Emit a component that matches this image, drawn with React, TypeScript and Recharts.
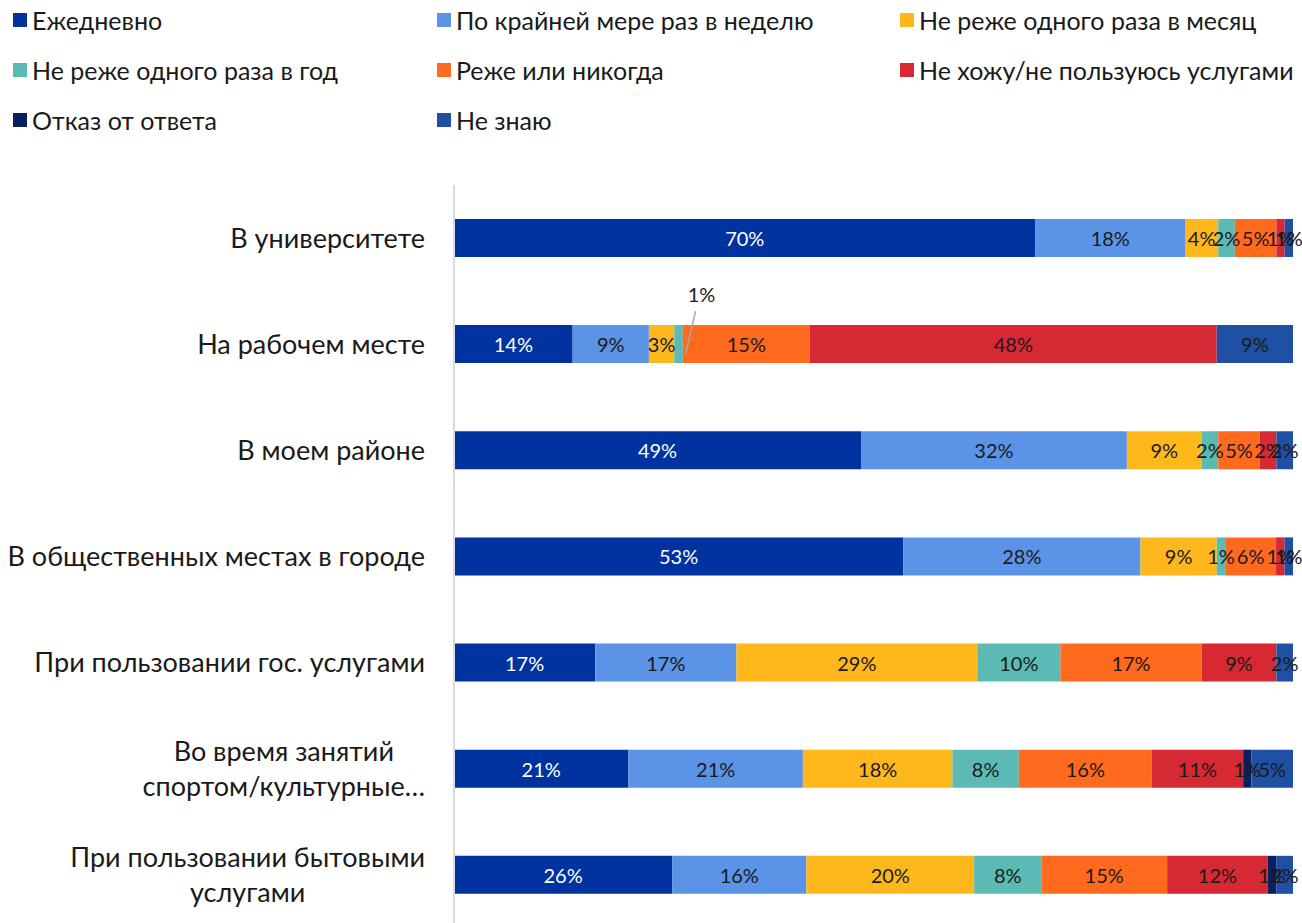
import { BarChart, Bar, XAxis, YAxis, Legend, LabelList } from "recharts";

const categories = [
  "В университете",
  "На рабочем месте",
  "В моем районе",
  "В общественных местах в городе",
  "При пользовании гос. услугами",
  "Во время занятий\nспортом/культурные…",
  "При пользовании бытовыми\nуслугами",
];

const daily = [70, 14, 49, 53, 17, 21, 26];
const weekly = [18, 9, 32, 28, 17, 21, 16];
const monthly = [4, 3, 9, 9, 29, 18, 20];
const yearly = [2, 1, 2, 1, 10, 8, 8];
const rarely = [5, 15, 5, 6, 17, 16, 15];
const notUsing = [1, 48, 2, 1, 9, 11, 12];
const refused = [0, 0, 0, 0, 0, 1, 1];
const dontKnow = [1, 9, 2, 1, 2, 5, 2];

// labels that Excel moved outside the bar with a leader line
const calloutRows = ["На рабочем месте"];

const FONT = "Lato, 'Liberation Sans', sans-serif";

const series = [
  { key: "daily", name: "Ежедневно", color: "#0033a0", text: "#ffffff", values: daily },
  { key: "weekly", name: "По крайней мере раз в неделю", color: "#5b93e6", text: "#1a1a1a", values: weekly },
  { key: "monthly", name: "Не реже одного раза в месяц", color: "#ffb81c", text: "#1a1a1a", values: monthly },
  { key: "yearly", name: "Не реже одного раза в год", color: "#5bbab3", text: "#1a1a1a", values: yearly, callout: true },
  { key: "rarely", name: "Реже или никогда", color: "#ff6a1f", text: "#1a1a1a", values: rarely },
  { key: "notUsing", name: "Не хожу/не пользуюсь услугами", color: "#d62933", text: "#1a1a1a", values: notUsing },
  { key: "refused", name: "Отказ от ответа", color: "#0b1f5e", text: "#1a1a1a", values: refused },
  { key: "dontKnow", name: "Не знаю", color: "#1f50a3", text: "#1a1a1a", values: dontKnow },
];

const data = categories.map((name, i) => {
  const row: Record<string, string | number> = { name };
  series.forEach((s) => (row[s.key] = s.values[i]));
  return row;
});

let ctx: CanvasRenderingContext2D | null = null;
function textWidth(t: string, font: string) {
  if (!ctx) ctx = document.createElement("canvas").getContext("2d");
  if (!ctx) return t.length * 12;
  ctx.font = font;
  return ctx.measureText(t).width;
}

const AXIS_SIZE = 27;
const LEGEND_SIZE = 25;
const LABEL_SIZE = 20;

function CategoryTick(props: any) {
  const { x, y, payload } = props;
  const lines = String(payload.value).split("\n");
  const right = x - 21;
  if (lines.length === 1) {
    return (
      <text x={right} y={y} dy="0.35em" textAnchor="end" fontSize={AXIS_SIZE} fill="#1a1a1a" fontFamily={FONT}>
        {lines[0]}
      </text>
    );
  }
  // wrapped labels: lines centred on each other, block right-aligned
  const maxW = Math.max(...lines.map((l) => textWidth(l, `${AXIS_SIZE}px ${FONT}`)));
  const cx = right - maxW / 2;
  const lh = 35;
  const top = y - ((lines.length - 1) * lh) / 2;
  return (
    <text textAnchor="middle" fontSize={AXIS_SIZE} fill="#1a1a1a" fontFamily={FONT}>
      {lines.map((l, i) => (
        <tspan key={i} x={cx} y={top + i * lh} dy="0.35em">
          {l}
        </tspan>
      ))}
    </text>
  );
}

function makeLabel(s: (typeof series)[number]) {
  return (props: any) => {
    const vb = props.viewBox || props;
    const { x, y, width, height } = vb;
    const value = props.value;
    if (!value) return null;
    const cx = x + width / 2;
    const cy = y + height / 2;
    const row = categories[props.index];
    if (s.callout && calloutRows.includes(row)) {
      return (
        <g>
          <line x1={cx + 17} y1={y - 14} x2={cx + 7} y2={y + 29} stroke="#a6a6a6" strokeWidth={1.5} />
          <text x={cx + 23} y={y - 31} textAnchor="middle" dominantBaseline="central" fontSize={LABEL_SIZE} fill="#1a1a1a" fontFamily={FONT}>
            {value}%
          </text>
        </g>
      );
    }
    return (
      <text x={cx} y={cy} textAnchor="middle" dominantBaseline="central" fontSize={LABEL_SIZE} fill={s.text} fontFamily={FONT}>
        {value}%
      </text>
    );
  };
}

const legendCols = [13, 437, 900];

function LegendBox() {
  return (
    <div style={{ position: "relative", width: 1302, height: 185 }}>
      {series.map((s, i) => (
        <div
          key={s.key}
          style={{
            position: "absolute",
            left: legendCols[i % 3],
            top: Math.floor(i / 3) * 50 + 5,
            height: 30,
            display: "flex",
            alignItems: "center",
            whiteSpace: "nowrap",
          }}
        >
          <span style={{ width: 14, height: 14, background: s.color, marginRight: 5, display: "inline-block" }} />
          <span style={{ fontSize: LEGEND_SIZE, color: "#1a1a1a", fontFamily: FONT }}>{s.name}</span>
        </div>
      ))}
    </div>
  );
}

export default function App() {
  return (
    <div style={{ position: "absolute", left: 0, top: 0, width: 1302, height: 923, overflow: "hidden", background: "#fff" }}>
      <BarChart
        width={1302}
        height={935}
        data={data}
        layout="vertical"
        stackOffset="expand"
        barCategoryGap="32%"
        margin={{ top: 0, right: 9, bottom: 7, left: 0 }}
      >
        <Legend
          verticalAlign="top"
          align="left"
          content={() => <LegendBox />}
          wrapperStyle={{ left: 0, top: 0, width: 1302 }}
        />
        <XAxis type="number" hide domain={[0, 1]} />
        <YAxis
          type="category"
          dataKey="name"
          width={454}
          tick={<CategoryTick />}
          tickLine={false}
          axisLine={{ stroke: "#d9d9d9", strokeWidth: 2 }}
          interval={0}
        />
        {series.map((s) => (
          <Bar key={s.key} dataKey={s.key} name={s.name} stackId="a" fill={s.color} isAnimationActive={false}>
            <LabelList dataKey={s.key} content={makeLabel(s)} />
          </Bar>
        ))}
      </BarChart>
    </div>
  );
}
